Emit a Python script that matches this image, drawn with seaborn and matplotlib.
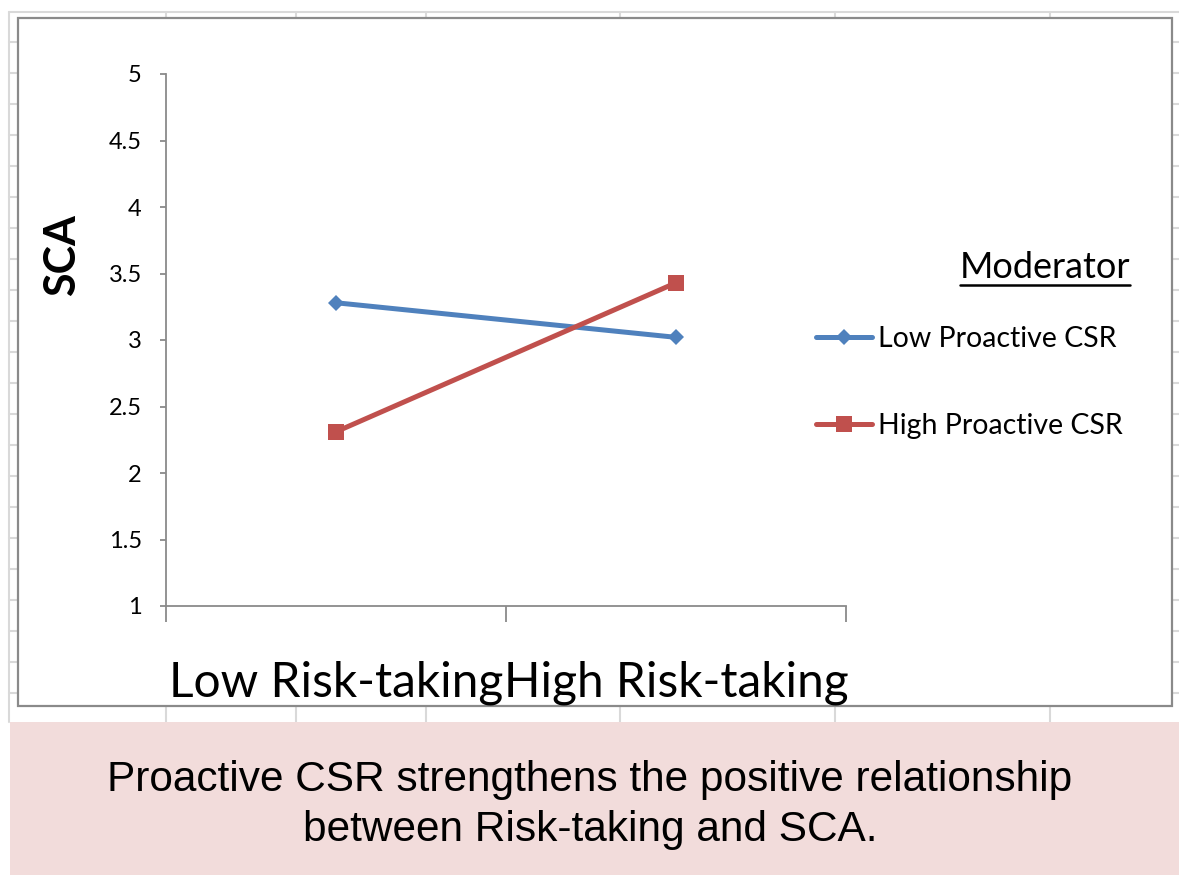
import numpy as np
import pandas as pd
import matplotlib
matplotlib.use("Agg")
import matplotlib.pyplot as plt
from matplotlib.lines import Line2D
from matplotlib.patches import Rectangle
from matplotlib.transforms import Affine2D, IdentityTransform
import seaborn as sns

# ---- data ----
categories = ["Low Risk-taking", "High Risk-taking"]
series_names = ["Low Proactive CSR", "High Proactive CSR"]
low_csr = [3.28, 3.02]
high_csr = [2.31, 3.43]
y_ticks = [1, 1.5, 2, 2.5, 3, 3.5, 4, 4.5, 5]
y_tick_labels = ["1", "1.5", "2", "2.5", "3", "3.5", "4", "4.5", "5"]
caption = "Proactive CSR strengthens the positive relationship\nbetween Risk-taking and SCA."

df = pd.DataFrame({
    "Risk": categories * 2,
    "SCA": low_csr + high_csr,
    "Moderator": [series_names[0]] * 2 + [series_names[1]] * 2,
})

sns.set_theme(style="white")
plt.rcParams["font.family"] = ["Lato", "DejaVu Sans"]

W, H = 1179, 875
fig = plt.figure(figsize=(W / 100, H / 100), dpi=100)
fig.patch.set_facecolor("white")
# pixel transform (y downward from top)
px = Affine2D().scale(1 / W, -1 / H).translate(0, 1) + fig.transFigure

grid_c = "#d9d9d9"
# spreadsheet gridlines in background
fig.add_artist(Line2D([9, W], [12, 12], color=grid_c, lw=1.5, transform=px, zorder=-10))
fig.add_artist(Line2D([9, 9], [12, 722], color=grid_c, lw=1.5, transform=px, zorder=-10))
for xc in [166, 296, 426, 620, 835, 1050]:
    fig.add_artist(Line2D([xc, xc], [12, 722], color=grid_c, lw=1.5, transform=px, zorder=-10))
for yr in np.arange(42, 700, 31):
    fig.add_artist(Line2D([9, W], [yr, yr], color=grid_c, lw=1.5, transform=px, zorder=-10))

# chart box
fig.add_artist(Rectangle((18, 18), 1154, 688, transform=px, facecolor="white",
                         edgecolor="#8a8a8a", lw=1.6, zorder=-5))
# caption box
fig.add_artist(Rectangle((10, 722), W - 10, H - 722, transform=px, facecolor="#F2DCDB",
                         edgecolor="none", zorder=-5))

ax = fig.add_axes([166 / W, 1 - 606 / H, 680 / W, 532 / H])
ax.set_facecolor("none")

palette = {series_names[0]: "#4F81BD", series_names[1]: "#C0504D"}
markers = {series_names[0]: "D", series_names[1]: "s"}
sns.lineplot(data=df, x="Risk", y="SCA", hue="Moderator", style="Moderator",
             hue_order=series_names, style_order=series_names,
             palette=palette, markers=markers, dashes=False, sort=False,
             errorbar=None, linewidth=3.6, markeredgewidth=0, ax=ax)
for ln in ax.lines:
    if ln.get_marker() == "D":
        ln.set_markersize(8)
    else:
        ln.set_markersize(12)

ax.set_xlim(-0.5, 1.5)
ax.set_ylim(1, 5)
ax.set_yticks(y_ticks)
ax.set_yticklabels(y_tick_labels)
ax.set_xticks([0, 1])
ax.set_xticklabels(categories)
ax.set_xticks([-0.5, 0.5, 1.5], minor=True)
ax.tick_params(axis="x", which="both", bottom=True)
ax.tick_params(axis="x", which="major", length=0, pad=39, labelsize=34.5, labelcolor="black")
ax.tick_params(axis="x", which="minor", length=11.5, width=1.3, color="#8a8a8a", direction="out")
ax.tick_params(axis="y", which="major", length=4.5, width=1.3, color="#8a8a8a",
               direction="out", left=True, pad=13, labelsize=17, labelcolor="black")
for s in ["top", "right"]:
    ax.spines[s].set_visible(False)
for s in ["left", "bottom"]:
    ax.spines[s].set_color("#8a8a8a")
    ax.spines[s].set_linewidth(1.3)
ax.set_xlabel("")
ax.set_ylabel("")

# legend
handles, labels = ax.get_legend_handles_labels()
if ax.get_legend():
    ax.get_legend().remove()
leg = fig.legend(handles, labels, loc="upper left",
                 bbox_to_anchor=(816 / W, 1 - 326 / H), bbox_transform=fig.transFigure,
                 frameon=False, fontsize=20.5, handlelength=1.97, handletextpad=0.2,
                 labelspacing=2.15, borderpad=0, borderaxespad=0)
for t in leg.get_texts():
    t.set_color("black")

mod = fig.text(1130 / W, 1 - 268 / H, "Moderator", ha="right", va="center",
               fontsize=26, color="black")

# y label
fig.text(62 / W, 1 - 255 / H, "SCA", rotation=90, ha="center", va="center",
         fontsize=31, fontweight="bold", color="black")

# caption
fig.text(590 / W, 1 - 805 / H, caption, ha="center", va="center", multialignment="center",
         fontsize=30.5, color="black", family=["Liberation Sans", "DejaVu Sans"],
         linespacing=1.34)

fig.canvas.draw()
bb = mod.get_window_extent()
fig.add_artist(Line2D([bb.x0, bb.x1], [H - 285, H - 285], color="black", lw=1.8,
                      transform=IdentityTransform()))

fig.savefig("out.png", dpi=100)
